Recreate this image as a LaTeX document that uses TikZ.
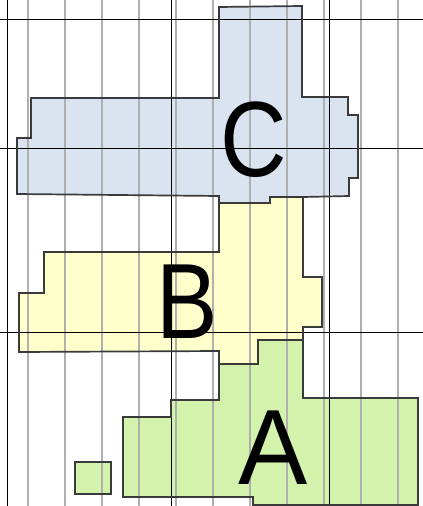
\documentclass[tikz,border=0pt]{standalone}
\usepackage{fontspec}
\usepackage{graphicx}
\setmainfont{Liberation Sans}
\definecolor{cfill}{HTML}{DAE3F0}
\definecolor{bfill}{HTML}{FFFFCC}
\definecolor{afill}{HTML}{D3F2AC}
\definecolor{gridgray}{HTML}{AFAFAF}
\definecolor{edge}{HTML}{3A3A3A}
\begin{document}
\begin{tikzpicture}[x=1pt,y=-1pt,
  region/.style={draw=edge,line width=1.7pt,line join=miter},
  thin grid/.style={draw=gridgray,line width=1.5pt},
  main grid/.style={draw=black,line width=1pt},
  letter/.style={inner sep=0pt,font=\fontsize{107}{107}\selectfont}]
\useasboundingbox (0,0) rectangle (423,506);
% fills
\def\regC{(219,7) -- (302,6) -- (302,97) -- (348,97) -- (348,115) -- (358,115) -- (358,178) -- (349,178) -- (349,196) -- (303,197) -- (270,197) -- (270,203) -- (219,203) -- (219,196) -- (17,194) -- (17,138) -- (31,138) -- (31,98) -- (219,98) -- cycle}
\def\regB{(44,252) -- (219,252) -- (219,203) -- (270,203) -- (270,197) -- (303,197) -- (303,277) -- (322,277) -- (322,327) -- (303,327) -- (303,340) -- (258,340) -- (258,364) -- (219,364) -- (219,351) -- (19,352) -- (19,293) -- (44,293) -- cycle}
\def\regA{(258,340) -- (303,340) -- (303,398) -- (418,398) -- (418,505) -- (253,505) -- (253,497) -- (123,497) -- (123,417) -- (171,417) -- (171,400) -- (219,400) -- (219,364) -- (258,364) -- cycle}
\fill[cfill] \regC;
\fill[bfill] \regB;
\fill[afill] \regA;
\fill[afill] (75,462) rectangle (111,494);
% grid
\foreach \gx in {28,65,102,139,176,213,250,287,324,361,398}
  \draw[thin grid] (\gx,0) -- (\gx,506);
\foreach \gx in {7,171,329}
  \draw[main grid] (\gx,0) -- (\gx,506);
\foreach \gy in {19,148,332}
  \draw[main grid] (0,\gy) -- (423,\gy);
% borders
\draw[region] \regC;
\draw[region] \regB;
\draw[region] \regA;
\draw[region] (75,462) rectangle (111,494);
% labels
\node[letter] (labC) at (254,140) {\scalebox{0.86}[1]{C}};
\node[letter] (labB) at (187.5,301.5) {\scalebox{0.86}[1]{B}};
\node[letter] (labA) at (273.5,447.5) {\scalebox{0.97}[1]{A}};
\end{tikzpicture}
\end{document}
